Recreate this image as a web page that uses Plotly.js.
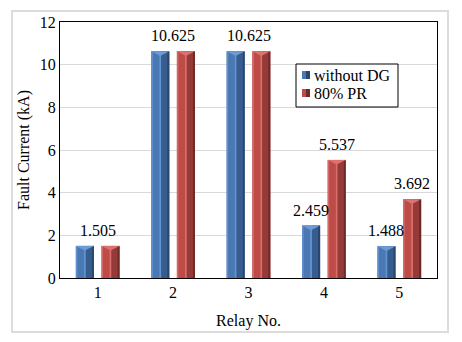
<!DOCTYPE html>
<html>
<head>
<meta charset="utf-8">
<script src="https://cdn.plot.ly/plotly-3.0.1.min.js"></script>
<style>
html,body{margin:0;padding:0;background:#fff;}
#wrap{position:relative;width:462px;height:342px;}
#chart{width:462px;height:342px;}
#frame{position:absolute;left:11px;top:10px;width:434px;height:319px;border:2px solid #dcdcdc;pointer-events:none;}
</style>
</head>
<body>
<div id="wrap"><div id="chart"></div><div id="frame"></div></div>
<script>
const relays = [1, 2, 3, 4, 5];
const withoutDG = [1.505, 10.625, 10.625, 2.459, 1.488];
const pr80 = [1.505, 10.625, 10.625, 5.537, 3.692];
const seriesNames = ['without DG', '80% PR'];
const yTicks = [0, 2, 4, 6, 8, 10, 12];

const W = 0.24;
const offsets = [-0.29, 0.05];
const BEVEL = 0.22; // top bevel depth in y units
const palettes = [
  {main:'#4a78b2', top:'#6d9bd6', strips:[[0,0.1,'#5f8fcc'],[0.1,0.45,'#4a78b2'],[0.45,0.55,'#6393cf'],[0.55,0.88,'#375d8e'],[0.88,1,'#284670']]},
  {main:'#bd4b48', top:'#dc716d', strips:[[0,0.1,'#d46865'],[0.1,0.45,'#bd4b48'],[0.45,0.55,'#d86d69'],[0.55,0.88,'#943a38'],[0.88,1,'#6e2a28']]}
];
const data = [];
[withoutDG, pr80].forEach((vals, s) => {
  const p = palettes[s];
  data.push({type:'bar', x:relays, y:vals, name:seriesNames[s], offset:offsets[s], width:W,
    marker:{color:p.main, line:{width:0}}, showlegend:false, hoverinfo:'skip'});
  p.strips.forEach(st => {
    data.push({type:'bar', x:relays, y:vals, offset:offsets[s] + st[0]*W, width:(st[1]-st[0])*W,
      marker:{color:st[2], line:{width:0}}, showlegend:false, hoverinfo:'skip'});
  });
  // top bevel triangles
  const tx = [], ty = [];
  relays.forEach((r, i) => {
    const l = r + offsets[s], rr = l + W, v = vals[i];
    tx.push(l, rr, (l + rr) / 2, l, null);
    ty.push(v, v, v - BEVEL, v, null);
  });
  data.push({type:'scatter', x:tx, y:ty, mode:'lines', fill:'toself', fillcolor:p.top,
    line:{width:0, color:p.top}, showlegend:false, hoverinfo:'skip', connectgaps:false});
});

const FAM = 'Liberation Serif, Times New Roman, DejaVu Serif, serif';

const annotations = [];
relays.forEach((r, i) => {
  const a = withoutDG[i], b = pr80[i];
  if (a === b) {
    annotations.push({x:r, y:a, text:a.toFixed(3), showarrow:false, yanchor:'bottom', yshift:5});
  } else {
    annotations.push({x:r + offsets[0] + W/2, y:a, text:a.toFixed(3), showarrow:false, yanchor:'bottom', yshift:5});
    annotations.push({x:r + offsets[1] + W/2, y:b, text:b.toFixed(3), showarrow:false, yanchor:'bottom', yshift:5});
  }
});

// custom legend (plot area: x 60..437 px, y 22..278 px)
const PL = 60, PW = 377, PB = 278, PH = 256;
const px = v => (v - PL) / PW;
const py = v => (PB - v) / PH;
const shapes = [
  {type:'rect', xref:'paper', yref:'paper', x0:px(296), x1:px(398), y0:py(107), y1:py(64),
   fillcolor:'#fff', line:{color:'#000', width:1}, layer:'above'}
];
seriesNames.forEach((n, s) => {
  const cy = 75 + s * 18;
  shapes.push({type:'rect', xref:'paper', yref:'paper', x0:px(302), x1:px(310), y0:py(cy+4), y1:py(cy-4),
    fillcolor:palettes[s].main, line:{width:0}, layer:'above'});
  shapes.push({type:'rect', xref:'paper', yref:'paper', x0:px(306), x1:px(310), y0:py(cy+4), y1:py(cy-4),
    fillcolor:palettes[s].strips[4][2], line:{width:0}, layer:'above'});
  annotations.push({xref:'paper', yref:'paper', x:px(312), y:py(cy), text:n, showarrow:false,
    xanchor:'left', yanchor:'middle', font:{family:FAM, size:16, color:'#000'}});
});

const font = {family:FAM, size:16, color:'#000'};
const layout = {
  width:462, height:342,
  margin:{l:60, r:25, t:22, b:64},
  paper_bgcolor:'rgba(0,0,0,0)', plot_bgcolor:'#fff',
  font:font,
  barmode:'overlay',
  showlegend:false,
  xaxis:{range:[0.5,5.5], tickvals:relays, ticktext:relays.map(String), showgrid:false, zeroline:false,
    showline:true, linecolor:'#000', linewidth:1, mirror:true, ticks:'', ticklen:0,
    tickfont:{family:FAM, size:16, color:'#000'},
    title:{text:'Relay No.', font:{family:FAM, size:16, color:'#000'}, standoff:14}, fixedrange:true},
  yaxis:{range:[0,12], tickvals:yTicks, showgrid:true, gridcolor:'#d9d9d9', gridwidth:1, zeroline:false,
    showline:true, linecolor:'#000', linewidth:1, mirror:true, ticks:'', ticklen:0,
    tickfont:{family:FAM, size:16, color:'#000'},
    title:{text:'Fault Current (kA)', font:{family:FAM, size:16, color:'#000'}, standoff:6}, fixedrange:true},
  annotations:annotations,
  shapes:shapes
};
Plotly.newPlot('chart', data, layout, {displayModeBar:false, staticPlot:true});
</script>
</body>
</html>
